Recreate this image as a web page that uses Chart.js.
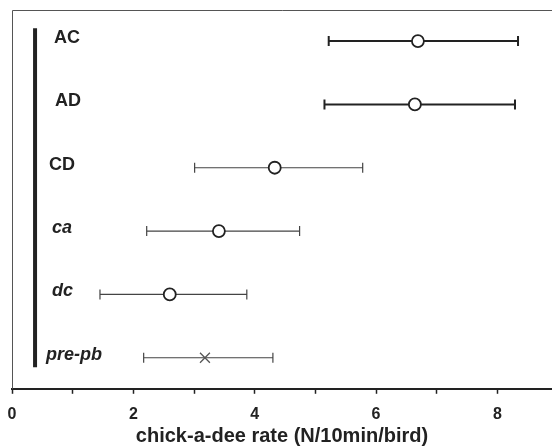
<!DOCTYPE html>
<html>
<head>
<meta charset="utf-8">
<script src="https://cdn.jsdelivr.net/npm/chart.js@4.4.1/dist/chart.umd.min.js"></script>
<style>
  html, body { margin: 0; padding: 0; background: #fff; }
  #wrap { width: 552px; height: 446px; }
</style>
</head>
<body>
<div id="wrap"><canvas id="rateChart"></canvas></div>
<script>
// groups, top to bottom
const groups = ["AC", "AD", "CD", "ca", "dc", "pre-pb"];
const means = [6.69, 6.64, 4.33, 3.41, 2.60, 3.18];
const lows = [5.22, 5.15, 3.01, 2.22, 1.45, 2.17];
const highs = [8.34, 8.29, 5.78, 4.74, 3.87, 4.30];
const xTicks = [0, 2, 4, 6, 8];

// looks
const italicGroups = ["ca", "dc", "pre-pb"];
const labelX = [54, 55, 49, 52, 52, 46];
const heavyRows = [0, 1];
const ink = "#222";

const errorBars = {
  id: "errorBars",
  beforeDatasetsDraw(chart) {
    const { ctx, scales: { x, y } } = chart;
    ctx.save();
    groups.forEach((g, i) => {
      const py = y.getPixelForValue(i);
      const x1 = x.getPixelForValue(lows[i]);
      const x2 = x.getPixelForValue(highs[i]);
      ctx.strokeStyle = heavyRows.includes(i) ? ink : "#444";
      ctx.lineWidth = heavyRows.includes(i) ? 2 : 1.2;
      ctx.beginPath();
      ctx.moveTo(x1, py); ctx.lineTo(x2, py);
      ctx.moveTo(x1, py - 5); ctx.lineTo(x1, py + 5);
      ctx.moveTo(x2, py - 5); ctx.lineTo(x2, py + 5);
      ctx.stroke();
    });
    ctx.restore();
  },
  afterDraw(chart) {
    const { ctx, chartArea: a, scales: { y } } = chart;
    ctx.save();
    // frame
    ctx.strokeStyle = "#555";
    ctx.lineWidth = 1;
    ctx.beginPath();
    ctx.moveTo(a.left + 0.5, a.bottom);
    ctx.lineTo(a.left + 0.5, a.top + 0.5);
    ctx.lineTo(a.right, a.top + 0.5);
    ctx.stroke();
    // group labels
    ctx.fillStyle = ink;
    ctx.textBaseline = "middle";
    groups.forEach((g, i) => {
      const it = italicGroups.includes(g) ? "italic " : "";
      ctx.font = it + "bold 18px 'Liberation Sans', Arial, sans-serif";
      ctx.fillText(g, labelX[i], y.getPixelForValue(i) - 3);
    });
    ctx.restore();
  }
};

new Chart(document.getElementById("rateChart"), {
  type: "scatter",
  data: {
    datasets: [
      {
        label: "mean",
        data: means.map((m, i) => ({ x: m, y: i })),
        pointStyle: means.map((m, i) => groups[i] === "pre-pb" ? "crossRot" : "circle"),
        pointRadius: means.map((m, i) => groups[i] === "pre-pb" ? 7 : 6),
        pointBorderWidth: means.map((m, i) => groups[i] === "pre-pb" ? 1.3 : 1.8),
        pointBorderColor: means.map((m, i) => groups[i] === "pre-pb" ? "#555" : ink),
        pointBackgroundColor: "#fff"
      },
      {
        label: "bar",
        type: "line",
        data: [{ x: 0.38, y: -0.2 }, { x: 0.38, y: 5.15 }],
        borderColor: ink,
        borderWidth: 4,
        pointRadius: 0
      }
    ]
  },
  options: {
    responsive: true,
    maintainAspectRatio: false,
    animation: false,
    layout: { autoPadding: false, padding: { left: 12, top: 10, right: 0, bottom: 0 } },
    plugins: { legend: { display: false }, tooltip: { enabled: false } },
    scales: {
      x: {
        type: "linear",
        min: 0,
        max: 8.9,
        grid: { display: true, drawOnChartArea: false, drawTicks: true, tickLength: 5, tickColor: ink, tickWidth: 1.5 },
        border: { display: true, color: ink, width: 2 },
        afterBuildTicks(axis) {
          axis.ticks = [0, 1, 2, 3, 4, 5, 6, 7, 8].map(v => ({ value: v }));
        },
        afterFit(axis) {
          axis.paddingLeft = 0;
          axis.paddingRight = 0;
        },
        ticks: {
          color: ink,
          padding: 11,
          maxRotation: 0,
          autoSkip: false,
          font: { family: "'Liberation Sans', Arial, sans-serif", size: 16, weight: "bold" },
          callback: v => xTicks.includes(v) ? String(v) : ""
        },
        title: {
          display: true,
          text: "chick-a-dee rate (N/10min/bird)",
          color: ink,
          padding: { top: -9, bottom: 0 },
          font: { family: "'Liberation Sans', Arial, sans-serif", size: 20, weight: "bold", lineHeight: 1 }
        }
      },
      y: {
        type: "linear",
        display: false,
        reverse: true,
        min: -0.49,
        max: 5.49
      }
    }
  },
  plugins: [errorBars]
});
</script>
</body>
</html>
